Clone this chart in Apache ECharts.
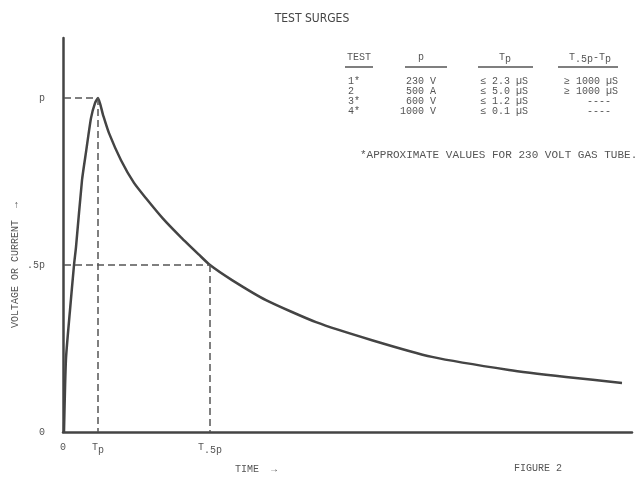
<!DOCTYPE html>
<html><head><meta charset="utf-8">
<script src="https://cdn.jsdelivr.net/npm/echarts@6/dist/echarts.min.js"></script>
<style>html,body{margin:0;padding:0;background:#fff}#c{width:638px;height:477px}</style>
</head><body><div id="c"></div>
<script>
// Surge waveform (time in arbitrary units, value as fraction of peak p)
const timeVals = [1, 3, 7, 11, 13, 19, 23, 28, 32, 35, 40, 46, 58, 71, 83, 100, 118, 136, 147, 169, 203, 253, 309, 369, 446, 503, 559];
const surgeVals = [0, 0.22, 0.365, 0.5, 0.554, 0.754, 0.838, 0.94, 0.985, 1.0, 0.95, 0.895, 0.814, 0.746, 0.70, 0.639, 0.583, 0.531, 0.5, 0.455, 0.395, 0.329, 0.275, 0.225, 0.186, 0.165, 0.147];
const tP = 35, tHalf = 147, peak = 1.0, half = 0.5;
const xTickVals = [0, tP, tHalf];
const xTickLabels = ['0', '{t|T}{s|p}', '{t|T}{s|.5p}'];
const yTickVals = [0, half, peak];
const yTickLabels = ['0', '.5p', 'p'];
// Table
const tableHeaders = ['TEST', 'p', 'Tp', 'T.5p-Tp'];
const testIds = ['1*', '2', '3*', '4*'];
const peakVals = ['230 V', '500 A', '600 V', '1000 V'];
const tpVals = ['\u2264 2.3 \u00b5S', '\u2264 5.0 \u00b5S', '\u2264 1.2 \u00b5S', '\u2264 0.1 \u00b5S'];
const decayVals = ['\u2265 1000 \u00b5S', '\u2265 1000 \u00b5S', '----', '----'];

const mono = '"Liberation Mono", "DejaVu Sans Mono", monospace';
const ink = '#555';
const chart = echarts.init(document.getElementById('c'));

const gridL = 63, gridT = 38, gridR = 6, gridB = 45;

const graphics = [];
const rowY = [81, 91, 101, 111];
const f10 = '10px ' + mono;
testIds.forEach((v, i) => graphics.push({type:'text', x:348, y:rowY[i], style:{text:v, font:f10, fill:ink, verticalAlign:'middle'}}));
peakVals.forEach((v, i) => graphics.push({type:'text', x:436, y:rowY[i], style:{text:v, font:f10, fill:ink, align:'right', verticalAlign:'middle'}}));
tpVals.forEach((v, i) => graphics.push({type:'text', x:480, y:rowY[i], style:{text:v, font:f10, fill:ink, align:'left', verticalAlign:'middle'}}));
decayVals.forEach((v, i) => graphics.push({type:'text', x: v === '----' ? 599 : 591, y:rowY[i], style:{text:v, font:f10, fill:ink, align:'center', verticalAlign:'middle'}}));
// headers
graphics.push({type:'text', x:359, y:57, style:{text:tableHeaders[0], font:f10, fill:ink, align:'center', verticalAlign:'middle'}});
graphics.push({type:'text', x:421, y:57, style:{text:tableHeaders[1], font:f10, fill:ink, align:'center', verticalAlign:'middle'}});
graphics.push({type:'text', x:505, y:57, style:{rich:{a:{font:f10, fill:ink},b:{font:f10, fill:ink, padding:[5,0,0,0]}}, text:'{a|T}{b|p}', align:'center', verticalAlign:'middle'}});
graphics.push({type:'text', x:590, y:57, style:{rich:{a:{font:f10, fill:ink},b:{font:f10, fill:ink, padding:[5,0,0,0]}}, text:'{a|T}{b|.5p}{a|-T}{b|p}', align:'center', verticalAlign:'middle'}});
// header underlines
[[345,373],[405,447],[478,533],[558,618]].forEach(s => graphics.push({type:'line', shape:{x1:s[0], y1:67, x2:s[1], y2:67}, style:{stroke:ink, lineWidth:1.5}}));
graphics.push({type:'text', x:360, y:155, style:{text:'*APPROXIMATE VALUES FOR 230 VOLT GAS TUBE.', font:'11px '+mono, fill:ink, verticalAlign:'middle'}});
graphics.push({type:'text', x:235, y:469, style:{text:'TIME  \u2192', font:f10, fill:ink, verticalAlign:'middle'}});
graphics.push({type:'text', x:514, y:468, style:{text:'FIGURE 2', font:f10, fill:ink, verticalAlign:'middle'}});
graphics.push({type:'text', x:15, y:265, rotation:Math.PI/2, style:{text:'VOLTAGE OR CURRENT  \u2192', font:f10, fill:ink, align:'center', verticalAlign:'middle'}});

const dash = {color:'#555', type:[7,4], width:1.5};
chart.setOption({
  animation:false,
  backgroundColor:'#fff',
  title:{text:'TEST SURGES', left:307, top:8, textAlign:'center', textStyle:{fontFamily:'"DejaVu Sans Condensed", "Liberation Sans Narrow", sans-serif', fontSize:12, fontWeight:'normal', color:'#444'}},
  grid:{left:gridL, top:gridT, right:gridR, bottom:gridB},
  xAxis:{type:'value', min:0, max:569,
    axisLine:{lineStyle:{color:'#444', width:2.5}},
    axisTick:{show:false}, splitLine:{show:false},
    axisLabel:{customValues:xTickVals, margin:10,
      formatter:v => xTickLabels[xTickVals.indexOf(v)] || '',
      rich:{t:{fontFamily:mono, fontSize:10, color:ink, padding:[0,0,6,0]}, s:{fontFamily:mono, fontSize:10, color:ink}},
      fontFamily:mono, fontSize:10, color:ink}},
  yAxis:{type:'value', min:0, max:1.18,
    axisLine:{show:true, lineStyle:{color:'#444', width:2.5}},
    axisTick:{show:false}, splitLine:{show:false},
    axisLabel:{customValues:yTickVals, margin:18,
      formatter:v => yTickLabels[yTickVals.indexOf(v)] || '',
      fontFamily:mono, fontSize:10, color:ink}},
  graphic:graphics,
  series:[{type:'line', data:timeVals.map((t,i)=>[t, surgeVals[i]]), smooth:0.2, showSymbol:false,
    lineStyle:{color:'#444', width:2.5, join:'round'},
    markLine:{silent:true, symbol:'none', label:{show:false}, lineStyle:dash,
      data:[
        [{coord:[1, peak]}, {coord:[tP, peak]}],
        [{coord:[tP, peak]}, {coord:[tP, 0]}],
        [{coord:[1, half]}, {coord:[tHalf, half]}],
        [{coord:[tHalf, half]}, {coord:[tHalf, 0]}]
      ]}
  }]
});
</script></body></html>
